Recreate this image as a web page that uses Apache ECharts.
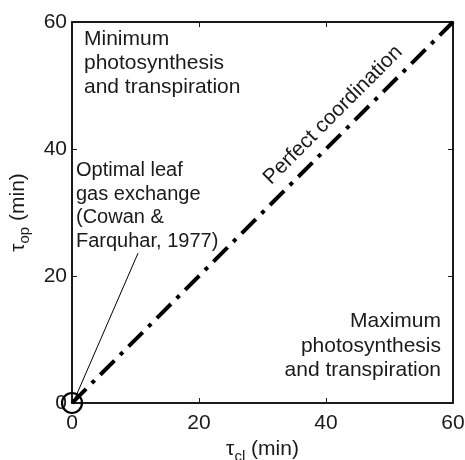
<!DOCTYPE html>
<html>
<head>
<meta charset="utf-8">
<script src="https://cdn.jsdelivr.net/npm/echarts@6/dist/echarts.min.js"></script>
<style>
  html, body { margin: 0; padding: 0; background: #fff; }
  #chart { width: 465px; height: 460px; }
</style>
</head>
<body>
<div id="chart"></div>
<script>
// Axis ticks (minutes)
const xTicks = [0, 20, 40, 60];
const yTicks = [0, 20, 40, 60];

// 1:1 line of perfect coordination between closing and opening times
const coordinationLine = [[0, 0], [60, 60]];
// Optimum point and its callout leader line
const optimumPoint = [[0, 0]];
const leaderLine = [[0.5, 0.8], [10.4, 23.6]];

const FONT = '"Liberation Sans", Arial, Helvetica, sans-serif';
const INK = '#1a1a1a';

const chart = echarts.init(document.getElementById('chart'), null, { renderer: 'canvas' });

const sharedAxis = {
  min: xTicks[0],
  max: xTicks[xTicks.length - 1],
  interval: xTicks[1] - xTicks[0],
  axisLine: { show: true, onZero: false, lineStyle: { color: INK, width: 2 } },
  axisTick: { show: true, inside: true, length: 5, lineStyle: { color: INK, width: 1 } },
  splitLine: { show: false }
};

const nameRich = {
  t: { fontSize: 21, fontFamily: FONT, color: INK },
  sub: { fontSize: 15, fontFamily: FONT, color: INK, padding: [14, 0, 0, 0] }
};

const option = {
  animation: false,
  backgroundColor: '#fff',
  grid: { left: 72, right: 12, top: 22, bottom: 57, containLabel: false, outerBoundsMode: 'none' },
  xAxis: [
    Object.assign({}, sharedAxis, {
      type: 'value',
      position: 'bottom',
      axisLabel: { color: INK, fontSize: 21, fontFamily: FONT, margin: 10 },
      name: '{t|τ}{sub|cl}{t| (min)}',
      nameLocation: 'middle',
      nameGap: 31,
      nameTextStyle: { rich: nameRich }
    }),
    Object.assign({}, sharedAxis, {
      type: 'value',
      position: 'top',
      axisLabel: { show: false }
    })
  ],
  yAxis: [
    Object.assign({}, sharedAxis, {
      type: 'value',
      min: yTicks[0],
      max: yTicks[yTicks.length - 1],
      interval: yTicks[1] - yTicks[0],
      position: 'left',
      axisLabel: { color: INK, fontSize: 21, fontFamily: FONT, margin: 5 },
      name: '{t|τ}{sub|op}{t| (min)}',
      nameLocation: 'middle',
      nameRotate: 90,
      nameGap: 35,
      nameTextStyle: { rich: nameRich }
    }),
    Object.assign({}, sharedAxis, {
      type: 'value',
      min: yTicks[0],
      max: yTicks[yTicks.length - 1],
      interval: yTicks[1] - yTicks[0],
      position: 'right',
      axisLabel: { show: false }
    })
  ],
  series: [
    {
      type: 'line',
      data: coordinationLine,
      symbol: 'none',
      clip: false,
      lineStyle: { color: '#000', width: 4, type: [20, 8, 4, 8], cap: 'butt' },
      z: 3
    },
    {
      type: 'line',
      data: leaderLine,
      symbol: 'none',
      clip: false,
      lineStyle: { color: '#000', width: 1 },
      z: 3
    },
    {
      type: 'scatter',
      data: optimumPoint,
      symbol: 'circle',
      symbolSize: 20,
      clip: false,
      itemStyle: { color: 'rgba(0,0,0,0)', borderColor: '#000', borderWidth: 2.2, opacity: 1 },
      z: 4
    }
  ],
  graphic: [
    {
      type: 'text',
      x: 84, y: 27,
      style: {
        text: 'Minimum\nphotosynthesis\nand transpiration',
        font: '21px ' + FONT, fill: INK, lineHeight: 24, align: 'left', verticalAlign: 'top'
      }
    },
    {
      type: 'text',
      x: 76, y: 159,
      style: {
        text: 'Optimal leaf\ngas exchange\n(Cowan &\nFarquhar, 1977)',
        font: '20px ' + FONT, fill: INK, lineHeight: 23.5, align: 'left', verticalAlign: 'top'
      }
    },
    {
      type: 'text',
      x: 441, y: 309,
      style: {
        text: 'Maximum\nphotosynthesis\nand transpiration',
        font: '21px ' + FONT, fill: INK, lineHeight: 24.5, align: 'right', verticalAlign: 'top'
      }
    },
    {
      type: 'text',
      x: 333, y: 115,
      rotation: Math.PI / 4,
      style: {
        text: 'Perfect coordination',
        font: '21px ' + FONT, fill: INK, align: 'center', verticalAlign: 'middle'
      }
    }
  ]
};

chart.setOption(option);
</script>
</body>
</html>
